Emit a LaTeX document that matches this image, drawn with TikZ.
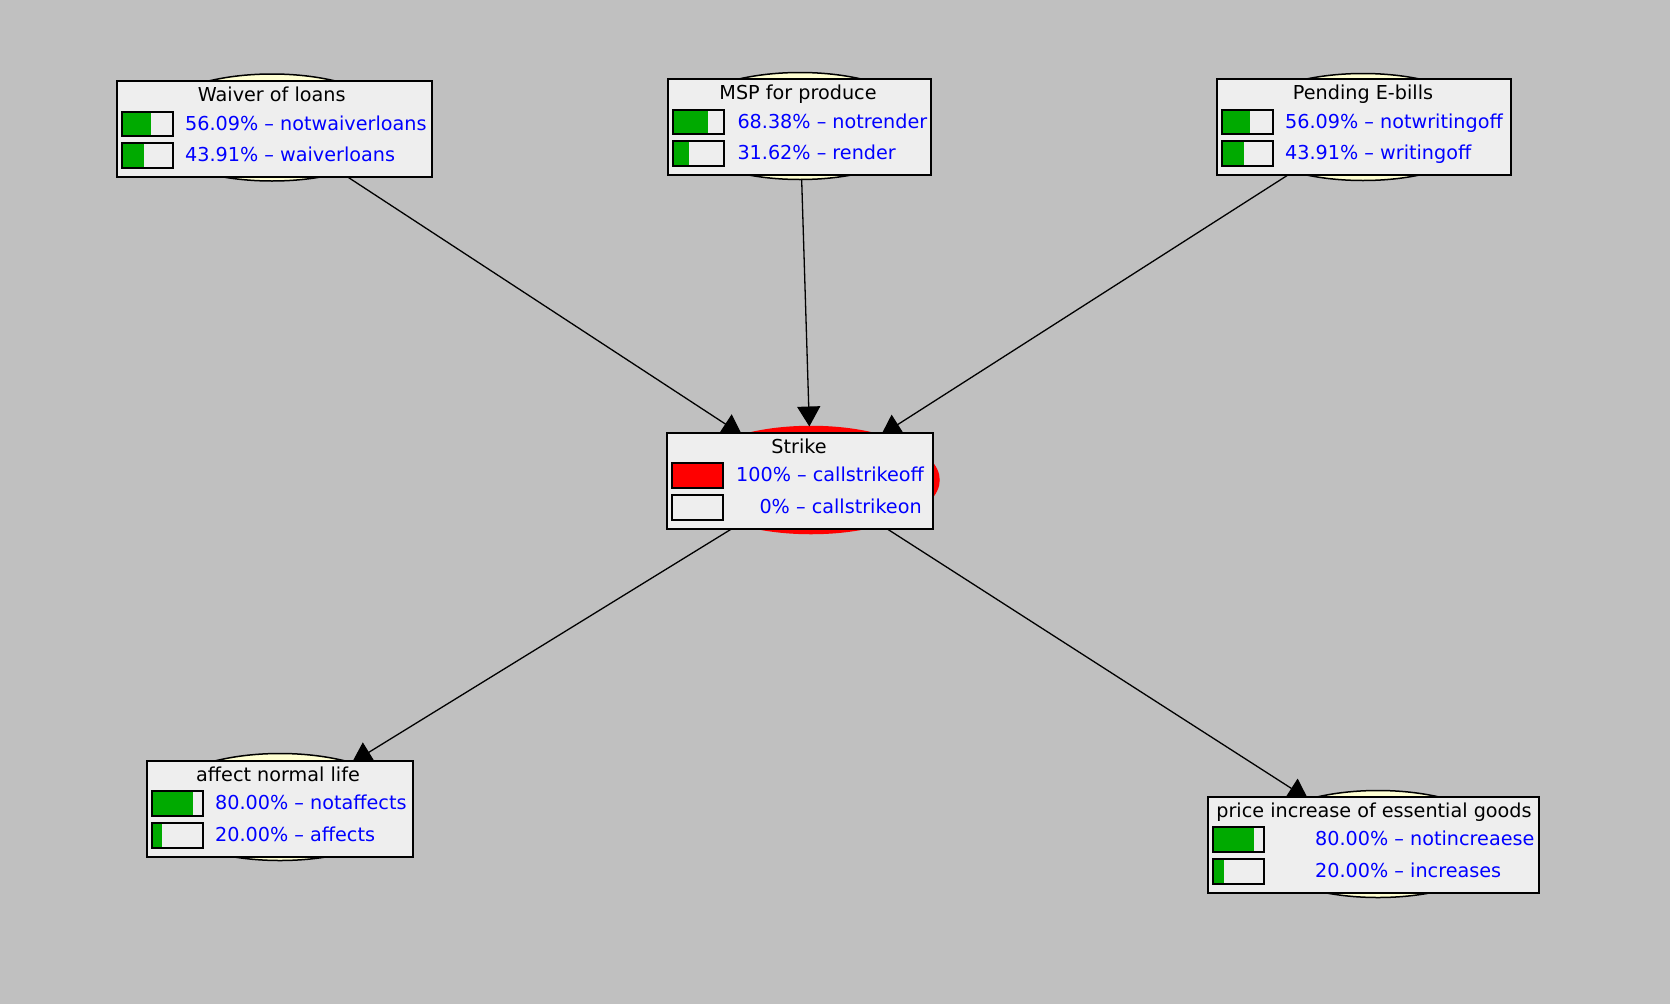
\documentclass[tikz,border=0pt]{standalone}
\usepackage{fontspec}
\setmainfont{DejaVu Sans}
\usetikzlibrary{shapes.geometric,arrows.meta}
\definecolor{bg}{RGB}{192,192,192}
\definecolor{boxfill}{RGB}{238,238,238}
\definecolor{bargreen}{RGB}{0,170,0}
\definecolor{probblue}{RGB}{0,0,255}
\definecolor{nodeyellow}{RGB}{255,255,210}
\definecolor{strikered}{RGB}{255,0,0}
\tikzset{
  ell/.style={ellipse, draw=black, line width=1.5pt, fill=nodeyellow,
    minimum width=256pt, minimum height=107pt, inner sep=0pt, outer sep=0pt},
  link/.style={line width=1.3pt, -{Triangle[length=20pt,width=23pt]}},
  monbox/.style={draw=black, line width=2pt, fill=boxfill, anchor=north west,
    inner sep=0pt, outer sep=0pt, minimum height=96.3pt},
  titletxt/.style={font=\fontsize{19.2}{23}\selectfont, text=black, anchor=base, inner sep=0pt},
  probtxt/.style={font=\fontsize{19.2}{23}\selectfont, text=probblue, anchor=base west, inner sep=0pt},
  barframe/.style={draw=black, line width=2pt},
}
% #1 = box left, #2 = box top, #3 = fraction row 1, #4 = fraction row 2, #5 = colour
\newcommand{\probbars}[5]{%
  \fill[#5] ({#1+5},{#2+30.7}) rectangle ({#1+5+51*#3},{#2+55.3});
  \draw[barframe] ({#1+5},{#2+30.7}) rectangle ({#1+56},{#2+55.3});
  \fill[#5] ({#1+5},{#2+62.3}) rectangle ({#1+5+51*#4},{#2+87});
  \draw[barframe] ({#1+5},{#2+62.3}) rectangle ({#1+56},{#2+87});
}
\begin{document}
\begin{tikzpicture}[x=1pt,y=-1pt]
\fill[bg] (0,0) rectangle (1670,1004);
\useasboundingbox (0,0) rectangle (1670,1004);

% node ellipses
\node[ell] (wE) at (272,127.5) {};
\node[ell] (mE) at (800,126) {};
\node[ell] (pE) at (1363,127) {};
\node[ell, fill=strikered, draw=strikered] (sE) at (811,480) {};
\node[ell] (aE) at (280,807) {};
\node[ell] (iE) at (1378,844) {};

% links
\draw[link] (wE) -- (sE);
\draw[link] (mE) -- (sE);
\draw[link] (pE) -- (sE);
\draw[link] (sE) -- (aE);
\draw[link] (sE) -- (iE);

% Waiver of loans
\node[monbox, minimum width=314.7pt] (wB) at (117,81) {};
\node[titletxt] (wT) at (271.7,101.7) {Waiver of loans};
\probbars{117}{81}{0.5609}{0.4391}{bargreen}
\node[probtxt] (w1) at (185,130) {56.09\% – notwaiverloans};
\node[probtxt] (w2) at (185,161.7) {43.91\% – waiverloans};

% MSP for produce
\node[monbox, minimum width=262.4pt] (mB) at (668.3,79) {};
\node[titletxt] (mT) at (798,99.7) {MSP for produce};
\probbars{668.3}{79}{0.6838}{0.3162}{bargreen}
\node[probtxt] (m1) at (737.3,128) {68.38\% – notrender};
\node[probtxt] (m2) at (737.3,159.7) {31.62\% – render};

% Pending E-bills
\node[monbox, minimum width=294pt] (pB) at (1216.7,79) {};
\node[titletxt] (pT) at (1363,99.7) {Pending E-bills};
\probbars{1216.7}{79}{0.5609}{0.4391}{bargreen}
\node[probtxt] (p1) at (1285,128) {56.09\% – notwritingoff};
\node[probtxt] (p2) at (1285,159.7) {43.91\% – writingoff};

% Strike
\node[monbox, minimum width=266.6pt] (sB) at (666.7,432.7) {};
\node[titletxt] (sT) at (799,453.4) {Strike};
\probbars{666.7}{432.7}{1}{0}{strikered}
\node[probtxt] (s1) at (736,481.7) {100\% – callstrikeoff};
\node[probtxt] (s2) at (759.3,513.4) {0\% – callstrikeon};

% affect normal life
\node[monbox, minimum width=266.6pt] (aB) at (146.7,760.7) {};
\node[titletxt] (aT) at (278,781.4) {affect normal life};
\probbars{146.7}{760.7}{0.8}{0.2}{bargreen}
\node[probtxt] (a1) at (215,809.7) {80.00\% – notaffects};
\node[probtxt] (a2) at (215,841.4) {20.00\% – affects};

% price increase of essential goods
\node[monbox, minimum width=331pt] (iB) at (1208.3,796.7) {};
\node[titletxt] (iT) at (1374,817.4) {price increase of essential goods};
\probbars{1208.3}{796.7}{0.8}{0.2}{bargreen}
\node[probtxt] (i1) at (1315,845.7) {80.00\% – notincreaese};
\node[probtxt] (i2) at (1315,877.4) {20.00\% – increases};
\end{tikzpicture}
\end{document}
